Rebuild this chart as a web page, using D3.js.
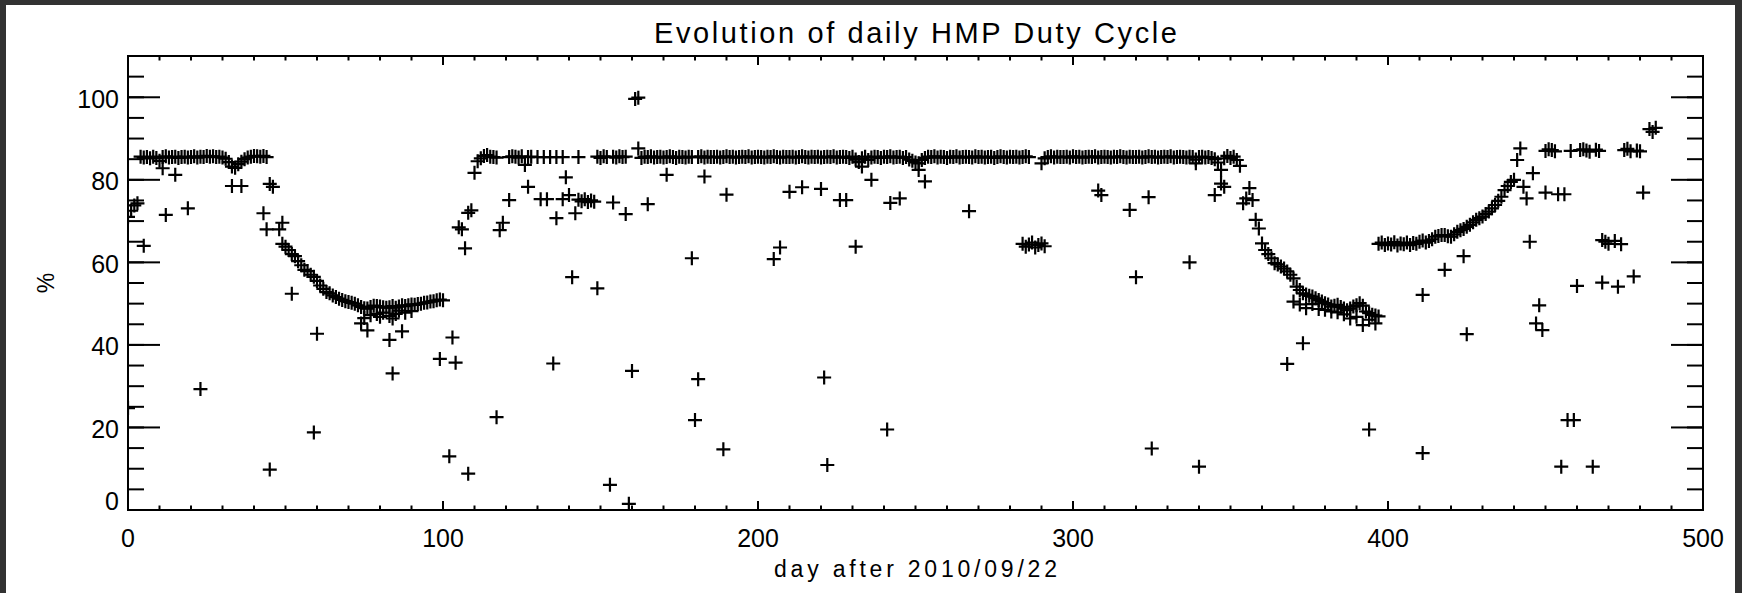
<!DOCTYPE html>
<html>
<head>
<meta charset="utf-8">
<script src="https://cdn.jsdelivr.net/npm/d3@7"></script>
<style>
  html, body { margin: 0; padding: 0; background: #323232; }
  svg { display: block; }
</style>
</head>
<body>
<div id="chart"></div>
<script>
// ---- data (day after 2010/09/22, daily duty cycle in %) ----
const X_TICKS = [0, 100, 200, 300, 400, 500];
const Y_TICKS = [0, 20, 40, 60, 80, 100];

// dense daily runs: first day + one value per day (null = no sample)
const RUN_AUTUMN_START = 0;
const RUN_AUTUMN = [71, 72.5, 73.8, 74.3, 85.6, 85.4, 85.5, 85.2, 85.6, 85.3, 84.6, 85.5, 85.7, 85.4, 85.5,
  85.6, 85.3, 85.5, 85.6, 85.4, 85.5, 85.7, 85.4, 85.6, 85.5, 85.8, 85.6, 85.7, 85.5, 85.6, 85.4, 85.1,
  84.3, 83.2, 82.9, 83.8, 84.4, 85.0, 85.4, 85.6, 85.8, 85.7, 85.6, 85.8, 85.5];

const RUN_WINTER_START = 45;
const RUN_WINTER = [79, 78.3, null, null, 64.5, 63.8, 63, 62, 61.5, 60.3, 59.3, 58.2, 57.9, 57, 56.5, 55.5,
  54.4, 53.6, 52.8, 52.5, 52, 51.6, 51.2, 50.9, 50.6, 50.4, 50.2, 50, 49.6, 49.2, 48.9, 48.8, 49.2, 49.5,
  49.4, 49.3, 49.1, 49.0, 49.1, 49.4, 49.0, 49.3, 49.6, 49.4, 49.6, 49.8, 49.7, 49.9, 50.0, 50.2, 50.3,
  50.5, 50.6, 50.8, 51.0, 50.8];

const RUN_RECOVERY_START = 105;
const RUN_RECOVERY = [68.5, 68, null, 72, 72.6, 81.7, 84.5, 85.2, 85.8, 86, 85.6, 85.5, 85.4, null, null, null,
  85.5, 85.7, 85.6, 85.4, 85.7, 83.6, 85.5, 85.6, null, 85.5, null, 85.5, null, 85.5, null, 85.5, null, 85.5,
  null, null, null, null, 85.5, null, null, null, null, null, 85.6, 85.3, 85.7, 85.5, null, 85.6, 85.4, 85.7,
  85.5, 85.6];

const RUN_SPRING_START = 163;
const RUN_SPRING = [85.3, 85.6, 85.5, 85.7, 85.4, 85.5, 85.6, 85.4, 85.5, 85.7, 85.5, 85.3, 85.6, 85.5, 85.4,
  85.6, 85.5, null, 85.5, 85.7, 85.4, 85.6, 85.5, 85.5, 85.6, 85.4, 85.5, 85.7, 85.5, 85.6, 85.4, 85.5,
  85.6, 85.5, 85.7, 85.4, 85.5, 85.6, 85.5, 85.4, 85.6, 85.5, 85.7, 85.5, 85.4, 85.6, 85.5, 85.5, 85.6,
  85.4, 85.5, 85.7, 85.5, 85.4, 85.6, 85.5, 85.6, 85.4, 85.5, 85.6, 85.5, 85.7, 85.4, 85.5, 85.6, 85.5,
  85.3, 85.6, 84.9, 84.3, 85.2, 85.6, 84.8, 85.4, 85.6, 85.5, 85.3, 85.6, 85.5, 85.7, 85.4, 85.5, 85.6,
  85.3, 85.5, 84.9, 84.6, 84.2, 84.0, 84.8, 85.3, 85.6, 85.5, 85.7, 85.4, 85.6, 85.5, 85.3, 85.6, 85.5,
  85.7, 85.4, 85.5, 85.6, 85.5, 85.4, 85.7, 85.5, 85.6, 85.4, 85.5, 85.6, 85.3, 85.5, 85.7, 85.5, 85.4,
  85.6, 85.5, 85.6, 85.4, 85.5, 85.7, 85.5];

const RUN_SUMMER_START = 291;
const RUN_SUMMER = [85.2, 85.5, 85.7, 85.4, 85.6, 85.5, 85.5, 85.6, 85.4, 85.7, 85.5, 85.6, 85.4, 85.5, 85.6,
  85.5, 85.7, 85.4, 85.5, 85.6, 85.5, 85.4, 85.6, 85.5, 85.7, 85.5, 85.4, 85.6, 85.5, 85.5, 85.6, 85.4,
  85.5, 85.7, 85.5, 85.6, 85.4, 85.5, 85.6, 85.5, 85.7, 85.4, 85.5, 85.6, 85.5, 85.4, 85.6, 85.5, 84.9,
  85.5, 85.6, 85.4, 85.5, 85.3, 85.0, 84.2, 82.4, 85.2, 85.8, 85.3, 85.6, 84.8];

const RUN_DECLINE_START = 353;
const RUN_DECLINE = [83.4, 74.3, 75.5, 78, 75.1, 70.3, 68.2, 64.6, 63, 62, 61, 59.8, 59.5, 59, 58.5, 57.8, 57,
  56.1, 54.1, 53.3, 52.5, 52.2, 51.9, 51.7, 51.3, 50.9, 50.5, 50.1, 49.8, 49.3, 49.5, 49.7, 49.2, 48.8,
  48.4, 48.8, 49.3, 49.6, 50.1, 49.5, 48.1, 47.7, 47.3, 47.1, 46.9];

const RUN_RISE_START = 397;
const RUN_RISE = [64.5, 64.8, 64.2, 64.6, 64.3, 64.9, 64.1, 64.6, 64.4, 64.8, 64.2, 64.7, 64.5, 65, 65.3, 64.8,
  65.2, 65.6, 66.2, 66.4, 66.6, 66.6, 66.3, 66.2, 66.8, 67.4, 67.8, 68.1, 68.6, 69.1, 69.7, 70.3, 70.7,
  71.1, 71.7, 72.3, 73.1, 73.9, 74.9, 75.9, 77.5, 78.5, 79.5, 80];

// scattered samples as [day, %]
const LOWER_TRACK = [[74, 45.2], [75, 46.5], [77, 47.2], [79, 47.5], [80, 46.8], [81, 47.8], [83, 47],
  [84, 46.4], [85, 47.5], [86, 48.3], [88, 47.8], [90, 48.2], [370, 50.5], [372, 49.8], [374, 48.9],
  [376, 49.9], [378, 48.7], [380, 48.5], [382, 48.1], [384, 47.9], [386, 47.4], [388, 46.4], [390, 46.8],
  [392, 44.8], [394, 46.1], [396, 45.2]];

const LATE_PLATEAU = [[450, 87], [451, 87.4], [452, 87.2], [453, 86.9], [458, 87.0], [461, 87.2], [462, 87.4],
  [463, 87.1], [464, 86.8], [466, 87.3], [467, 87.0], [475, 87.2], [476, 87.5], [477, 86.9], [479, 87.1],
  [480, 86.9], [483, 92.3], [484, 91.6], [485, 92.6]];

const OUTLIERS = [[0, 24.7], [5, 64], [11, 82.8], [12, 71.5], [15, 81.2], [19, 73.1], [23, 29.3], [33, 78.5],
  [36, 78.5], [43, 71.9], [44, 68], [45, 9.8], [48, 68], [49, 69.6], [52, 52.4], [59, 18.8], [60, 42.7],
  [76, 43.5], [83, 41.2], [84, 33.1], [87, 43.3], [99, 36.6], [102, 13], [103, 41.8], [104, 35.7],
  [107, 63.4], [108, 8.8], [117, 22.5], [118, 67.8], [119, 69.6], [121, 75.1], [127, 78.3], [131, 75.3],
  [133, 75.3], [135, 35.5], [136, 70.7], [138, 75.3], [139, 80.6], [140, 76.3], [141, 56.4], [142, 71.9],
  [143, 75.2], [144, 74.8], [145, 75.3], [146, 74.6], [147, 75], [148, 74.7], [149, 53.7], [153, 6.1],
  [154, 74.5], [158, 71.7], [159, 1.5], [160, 33.7], [161, 99.6], [162, 99.9], [162, 87.6], [165, 74.1],
  [171, 81.2], [179, 61], [180, 21.8], [181, 31.7], [183, 80.8], [189, 14.7], [190, 76.4], [205, 60.8],
  [207, 63.6], [210, 77.1], [214, 78.2], [220, 77.8], [221, 32.1], [222, 10.9], [226, 75.1], [228, 75.1],
  [231, 63.8], [233, 83.2], [236, 80], [241, 19.5], [242, 74.4], [245, 75.5], [251, 82.4], [253, 79.6],
  [267, 72.4], [284, 64.5], [285, 63.8], [286, 64.3], [287, 64.8], [288, 63.6], [289, 64.2], [290, 64.6],
  [291, 63.9], [290, 84], [308, 77.4], [309, 76.3], [318, 72.7], [320, 56.4], [324, 75.8], [325, 14.9],
  [337, 60], [339, 84], [340, 10.5], [345, 76.3], [347, 79.1], [348, 78.3], [368, 35.4], [373, 40.4],
  [394, 19.5], [411, 52.1], [411, 13.8], [418, 58.2], [424, 61.5], [425, 42.6], [441, 84.8], [442, 87.6],
  [443, 78.3], [444, 75.5], [445, 65], [446, 81.6], [447, 45.2], [448, 49.6], [449, 43.6], [450, 76.9],
  [454, 76.5], [456, 76.5], [455, 10.5], [457, 21.8], [459, 21.8], [460, 54.3], [465, 10.5], [468, 55.1],
  [468, 65.4], [469, 65], [470, 64.5], [472, 65.2], [474, 64.4], [473, 54.1], [478, 56.6], [481, 76.9]];

const TITLE = "Evolution of daily HMP Duty Cycle";
const X_LABEL = "day after 2010/09/22";
const Y_LABEL = "%";

// ---- layout ----
const LAYOUT = {
  width: 1742,
  height: 593,
  margin: { top: 56, right: 39, bottom: 83, left: 128 },
  frame: { left: 6, top: 5, right: 7 },
};
const DOMAIN = { x: [0, 500], y: [0, 110] };
const FONT = "'Liberation Sans', Arial, sans-serif";
const TICK = { xMajor: 9, xMinor: 4.5, yMajor: 32, yMinor: 16 };

function buildSvg(container) {
  const { width, height, margin, frame } = LAYOUT;
  const svg = d3.select(container).append("svg")
    .attr("width", width).attr("height", height);

  svg.append("rect").attr("width", width).attr("height", height).attr("fill", "#323232");
  svg.append("rect")
    .attr("x", frame.left).attr("y", frame.top)
    .attr("width", width - frame.left - frame.right)
    .attr("height", height - frame.top)
    .attr("fill", "#ffffff");

  const innerWidth = width - margin.left - margin.right;
  const innerHeight = height - margin.top - margin.bottom;
  const g = svg.append("g").attr("transform", `translate(${margin.left},${margin.top})`);
  return { svg, g, innerWidth, innerHeight };
}

function buildScales(innerWidth, innerHeight) {
  const xScale = d3.scaleLinear().domain(DOMAIN.x).range([0, innerWidth]);
  const yScale = d3.scaleLinear().domain(DOMAIN.y).range([innerHeight, 0]);
  return { xScale, yScale };
}

function styleAxis(sel) {
  sel.attr("font-family", FONT).attr("font-size", 25);
  sel.selectAll("line").attr("stroke", "#000").attr("stroke-width", 2);
  sel.selectAll(".domain").attr("stroke", "#000").attr("stroke-width", 2).attr("stroke-linecap", "square");
  sel.selectAll("text").attr("fill", "#000");
}

// tick marks only, no labels (minor ticks, top and right axes)
function ticksOnly(sel) {
  sel.call(styleAxis);
  sel.selectAll(".tick text").remove();
}

function drawAxes(g, { xScale, yScale }, innerWidth, innerHeight) {
  const xMinor = xScale.ticks(50);
  const yMinor = yScale.ticks(22);

  // bottom
  g.append("g").attr("transform", `translate(0,${innerHeight})`)
    .call(d3.axisBottom(xScale).tickValues(xMinor).tickSize(-TICK.xMinor).tickSizeOuter(0).offset(0))
    .call(ticksOnly);
  g.append("g").attr("transform", `translate(0,${innerHeight})`)
    .call(d3.axisBottom(xScale).tickValues(X_TICKS).tickSize(-TICK.xMajor).tickSizeOuter(0).tickPadding(19).offset(0))
    .call(styleAxis);

  // top
  g.append("g")
    .call(d3.axisTop(xScale).tickValues(xMinor).tickSize(-TICK.xMinor).tickSizeOuter(0).offset(0))
    .call(ticksOnly);
  g.append("g")
    .call(d3.axisTop(xScale).tickValues(X_TICKS).tickSize(-TICK.xMajor).tickSizeOuter(0).offset(0))
    .call(ticksOnly);

  // left
  g.append("g")
    .call(d3.axisLeft(yScale).tickValues(yMinor).tickSize(-TICK.yMinor).tickSizeOuter(0).offset(0))
    .call(ticksOnly);
  const left = g.append("g")
    .call(d3.axisLeft(yScale).tickValues(Y_TICKS).tickSize(-TICK.yMajor).tickSizeOuter(0).tickPadding(9).offset(0))
    .call(styleAxis);
  // IDL draws the labels a bit below the tick, the bottom one sits on the axis
  left.selectAll(".tick text").attr("dy", (d) => (d === 0 ? "0em" : "0.42em"));

  // right
  g.append("g").attr("transform", `translate(${innerWidth},0)`)
    .call(d3.axisRight(yScale).tickValues(yMinor).tickSize(-TICK.yMinor).tickSizeOuter(0).offset(0))
    .call(ticksOnly);
  g.append("g").attr("transform", `translate(${innerWidth},0)`)
    .call(d3.axisRight(yScale).tickValues(Y_TICKS).tickSize(-TICK.yMajor).tickSizeOuter(0).offset(0))
    .call(ticksOnly);
}

function drawLabels(g, innerWidth, innerHeight) {
  g.append("text")
    .attr("x", innerWidth / 2).attr("y", -13)
    .attr("text-anchor", "middle")
    .attr("font-family", FONT).attr("font-size", 29)
    .attr("textLength", 523).attr("lengthAdjust", "spacing")
    .text(TITLE);

  g.append("text")
    .attr("x", innerWidth / 2).attr("y", innerHeight + 67)
    .attr("text-anchor", "middle")
    .attr("font-family", FONT).attr("font-size", 23)
    .attr("textLength", 283).attr("lengthAdjust", "spacing")
    .text(X_LABEL);

  g.append("text")
    .attr("transform", "rotate(-90)")
    .attr("x", -innerHeight / 2).attr("y", -74)
    .attr("text-anchor", "middle")
    .attr("font-family", FONT).attr("font-size", 23)
    .text(Y_LABEL);
}

function runToPoints(start, values) {
  return values
    .map((v, i) => [start + i, v])
    .filter((p) => p[1] !== null);
}

function drawPoints(g, { xScale, yScale }, innerWidth, innerHeight) {
  g.append("clipPath").attr("id", "plot-clip")
    .append("rect").attr("width", innerWidth).attr("height", innerHeight);

  const points = [
    ...runToPoints(RUN_AUTUMN_START, RUN_AUTUMN),
    ...runToPoints(RUN_WINTER_START, RUN_WINTER),
    ...runToPoints(RUN_RECOVERY_START, RUN_RECOVERY),
    ...runToPoints(RUN_SPRING_START, RUN_SPRING),
    ...runToPoints(RUN_SUMMER_START, RUN_SUMMER),
    ...runToPoints(RUN_DECLINE_START, RUN_DECLINE),
    ...runToPoints(RUN_RISE_START, RUN_RISE),
    ...LOWER_TRACK,
    ...LATE_PLATEAU,
    ...OUTLIERS,
  ];

  const arm = 7;
  g.append("g").attr("clip-path", "url(#plot-clip)")
    .selectAll("path")
    .data(points)
    .join("path")
    .attr("transform", (d) => `translate(${xScale(d[0])},${yScale(d[1])})`)
    .attr("d", `M${-arm},0H${arm}M0,${-arm}V${arm}`)
    .attr("fill", "none")
    .attr("stroke", "#000")
    .attr("stroke-width", 2.2);
}

const container = document.getElementById("chart");
const { g, innerWidth, innerHeight } = buildSvg(container);
const scales = buildScales(innerWidth, innerHeight);
drawPoints(g, scales, innerWidth, innerHeight);
drawAxes(g, scales, innerWidth, innerHeight);
drawLabels(g, innerWidth, innerHeight);
</script>
</body>
</html>
